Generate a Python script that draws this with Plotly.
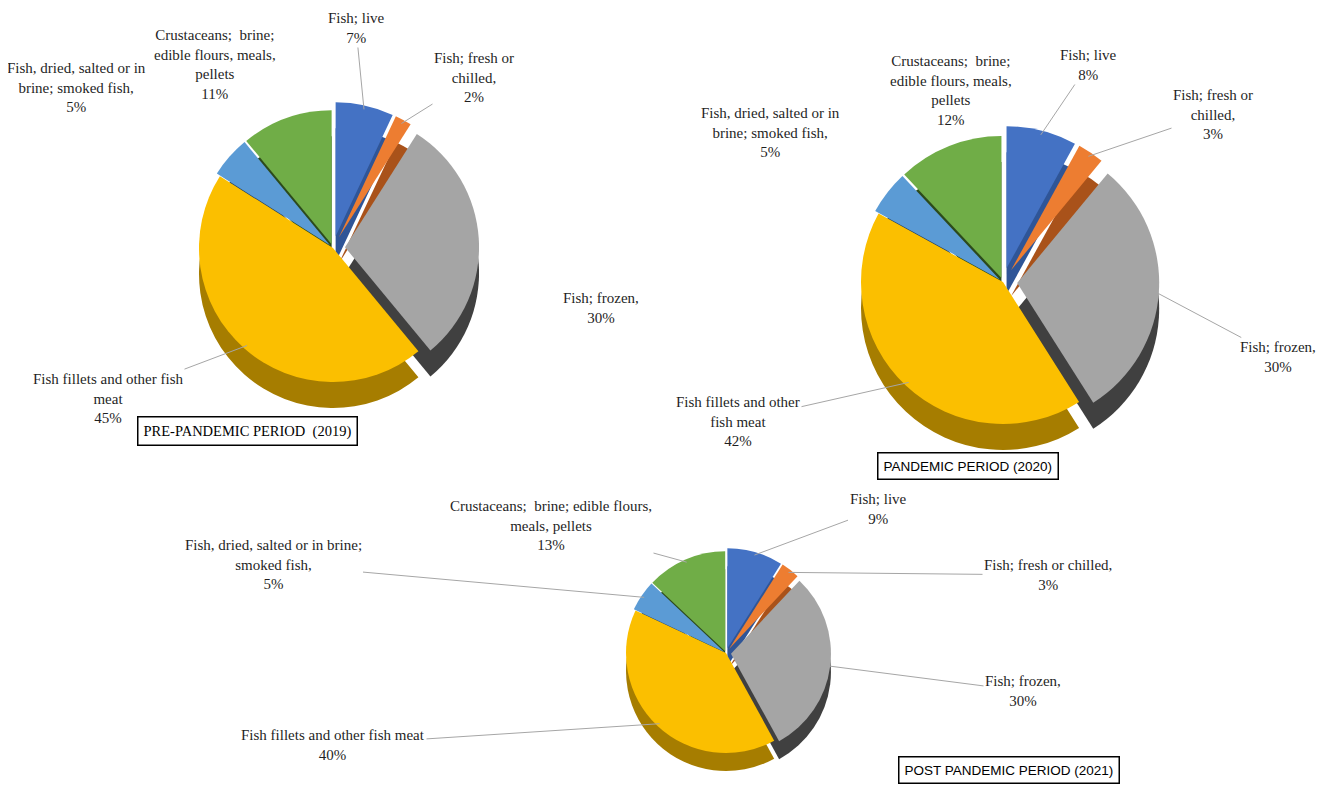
import math
import plotly.graph_objects as go

# =========================
# DATA
# =========================

CATEGORIES = [
    "Fish; live",
    "Fish; fresh or chilled",
    "Fish; frozen",
    "Fish fillets and other fish meat",
    "Fish, dried, salted or in brine; smoked fish",
    "Crustaceans;  brine; edible flours, meals, pellets",
]

SHARE_2019 = [7, 2, 30, 45, 5, 11]
SHARE_2020 = [8, 3, 30, 42, 5, 12]
SHARE_2021 = [9, 3, 30, 40, 5, 13]

# label text as printed (line breaks differ per pie)
TEXT_2019 = [
    "Fish; live",
    "Fish; fresh or<br>chilled,",
    "Fish; frozen,",
    "Fish fillets and other fish<br>meat",
    "Fish, dried, salted or in<br>brine; smoked fish,",
    "Crustaceans;  brine;<br>edible flours, meals,<br>pellets",
]
TEXT_2020 = [
    "Fish; live",
    "Fish; fresh or<br>chilled,",
    "Fish; frozen,",
    "Fish fillets and other<br>fish meat",
    "Fish, dried, salted or in<br>brine; smoked fish,",
    "Crustaceans;  brine;<br>edible flours, meals,<br>pellets",
]
TEXT_2021 = [
    "Fish; live",
    "Fish; fresh or chilled,",
    "Fish; frozen,",
    "Fish fillets and other fish meat",
    "Fish, dried, salted or in brine;<br>smoked fish,",
    "Crustaceans;  brine; edible flours,<br>meals, pellets",
]

TITLES = [
    "PRE-PANDEMIC PERIOD  (2019)",
    "PANDEMIC PERIOD (2020)",
    "POST PANDEMIC PERIOD (2021)",
]

# =========================
# THEME
# =========================

TOP_COLORS = ["#4472C4", "#ED7D31", "#A5A5A5", "#FBBF00", "#5B9BD5", "#70AD47"]
SIDE_COLORS = ["#2F5597", "#A9521A", "#404040", "#A67D00", "#223F5E", "#2C4A1C"]
LINE_GREY = "#A6A6A6"
SERIF = "Liberation Serif"
SANS = "Liberation Sans"

W, H = 1325, 787

# pie placement in pixels: centre, top radius, depth of the fake 3D side
PIES = [
    dict(values=SHARE_2019, text=TEXT_2019, cx=325, cy=240, r=134, depth=26,
         pull=[0.09, 0.09, 0.09, 0, 0.03, 0.03],
         label_xy=[(348, 20), (466, 70), (593, 300), (100, 390), (68, 80), (207, 57)],
         lines=[True, True, False, True, False, False]),
    dict(values=SHARE_2020, text=TEXT_2020, cx=995, cy=274, r=142, depth=26,
         pull=[0.1, 0.1, 0.1, 0, 0.03, 0.03],
         label_xy=[(1080, 57), (1205, 106), (1270, 349), (730, 413), (762, 124), (943, 82)],
         lines=[True, True, True, True, False, False]),
    dict(values=SHARE_2021, text=TEXT_2021, cx=718, cy=645, r=100, depth=18,
         pull=[0.05, 0.05, 0.05, 0, 0.02, 0.02],
         label_xy=[(870, 501), (1040, 567), (1015, 683), (325, 737), (265, 556), (543, 517)],
         lines=[True, True, True, True, True, True]),
]

TITLE_BOXES = [
    dict(x=240, y=423, font=SERIF, size=14.5),
    dict(x=960, y=458, font=SANS, size=13.5),
    dict(x=1001, y=762, font=SANS, size=13.5),
]


def px_x(x):
    return x / W


def px_y(y):
    return 1 - y / H


def pie_domain(cx, cy, r, pull):
    half = r * (1 + max(pull))
    return dict(x=[px_x(cx - half), px_x(cx + half)],
                y=[px_y(cy + half), px_y(cy - half)])


def slice_edge(values, pull, i, cx, cy, r):
    # mid angle of slice i, clockwise from 12 o'clock
    mid = (sum(values[:i]) + values[i] / 2) / sum(values)
    ang = 2 * math.pi * mid
    rr = r * (0.97 + pull[i])
    return cx + rr * math.sin(ang), cy - rr * math.cos(ang)


fig = go.Figure()
annotations = []

for p in PIES:
    common = dict(
        labels=CATEGORIES,
        values=p["values"],
        sort=False,
        direction="clockwise",
        rotation=0,
        pull=p["pull"],
        textinfo="none",
        showlegend=False,
    )
    # darker copy underneath, shifted down, acts as the pie's side wall
    fig.add_trace(go.Pie(
        **common,
        domain=pie_domain(p["cx"], p["cy"] + p["depth"], p["r"], p["pull"]),
        marker=dict(colors=SIDE_COLORS, line=dict(width=0)),
        hoverinfo="skip",
    ))
    fig.add_trace(go.Pie(
        **common,
        domain=pie_domain(p["cx"], p["cy"], p["r"], p["pull"]),
        marker=dict(colors=TOP_COLORS, line=dict(width=0)),
        hovertemplate="%{label}<br>%{value}%<extra></extra>",
    ))

    for i, v in enumerate(p["values"]):
        lx, ly = p["label_xy"][i]
        txt = f"{p['text'][i]}<br>{v}%"
        font = dict(family=SERIF, size=15, color="#1F1F1F")
        if p["lines"][i]:
            tx, ty = slice_edge(p["values"], p["pull"], i, p["cx"], p["cy"], p["r"])
            annotations.append(dict(
                x=px_x(tx), y=px_y(ty), xref="paper", yref="paper",
                ax=lx - tx, ay=ly - ty, axref="pixel", ayref="pixel",
                text=txt, showarrow=True, arrowhead=0, arrowwidth=1,
                arrowcolor=LINE_GREY, standoff=0, font=font,
            ))
        else:
            annotations.append(dict(
                x=px_x(lx), y=px_y(ly), xref="paper", yref="paper",
                xanchor="center", yanchor="middle",
                text=txt, showarrow=False, font=font,
            ))

for title, box in zip(TITLES, TITLE_BOXES):
    annotations.append(dict(
        x=px_x(box["x"]), y=px_y(box["y"]), xref="paper", yref="paper",
        xanchor="center", yanchor="middle",
        text=title, showarrow=False,
        font=dict(family=box["font"], size=box["size"], color="#000000"),
        bordercolor="#000000", borderwidth=1.5, borderpad=5,
        bgcolor="#FFFFFF",
    ))

fig.update_layout(
    width=W,
    height=H,
    margin=dict(l=0, r=0, t=0, b=0),
    paper_bgcolor="#FFFFFF",
    plot_bgcolor="#FFFFFF",
    annotations=annotations,
)

fig.write_html("out.html")
